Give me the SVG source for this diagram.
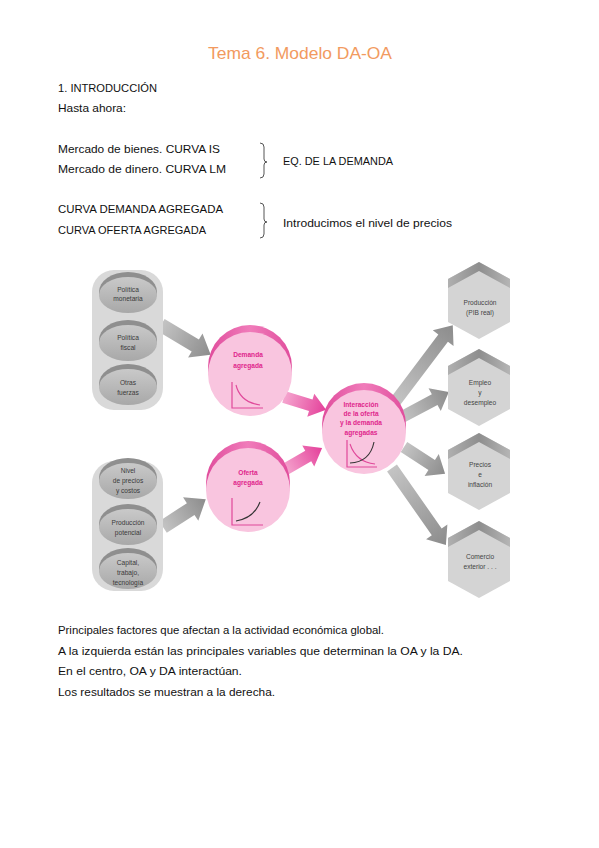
<svg xmlns="http://www.w3.org/2000/svg" width="599" height="848" viewBox="0 0 599 848">
<style>
.t{font-family:"Liberation Sans",Arial,sans-serif;font-size:11px;fill:#111}
.title{font-family:"Liberation Sans",Arial,sans-serif;font-size:17px;fill:#f29a60}
.br{fill:none;stroke:#555;stroke-width:1}
.panel{fill:#d9d9d9}
.dt{font-family:"Liberation Sans",Arial,sans-serif;font-size:6.6px;fill:#3a3a3a;text-anchor:middle}
.pt{font-family:"Liberation Sans",Arial,sans-serif;font-size:6.6px;font-weight:bold;fill:#e0268c;text-anchor:middle}
.ht{font-family:"Liberation Sans",Arial,sans-serif;font-size:6.6px;fill:#444;text-anchor:middle}
.ax{fill:none;stroke:#e0489a;stroke-width:1.2}
.cp{fill:none;stroke:#e0489a;stroke-width:1.1}
.ck{fill:none;stroke:#333;stroke-width:1.1}
.ga{fill:url(#gArrow)}
.pa{fill:url(#pArrow)}
</style>
<defs>
<linearGradient id="gArrow" x1="0" y1="0" x2="1" y2="0">
<stop offset="0" stop-color="#c4c4c4"/><stop offset="1" stop-color="#8c8c8c"/>
</linearGradient>
<linearGradient id="pArrow" x1="0" y1="0" x2="1" y2="0">
<stop offset="0" stop-color="#f5a6cf"/><stop offset="1" stop-color="#e4409a"/>
</linearGradient>
<linearGradient id="disc" x1="0" y1="0" x2="0" y2="1">
<stop offset="0" stop-color="#c9c9c9"/><stop offset="1" stop-color="#a8a8a8"/>
</linearGradient>
<linearGradient id="rim" x1="0" y1="0" x2="1" y2="0">
<stop offset="0" stop-color="#e04c9c"/><stop offset="0.5" stop-color="#f07cba"/><stop offset="1" stop-color="#e04c9c"/>
</linearGradient>
<linearGradient id="bev" x1="0" y1="0" x2="1" y2="0">
<stop offset="0" stop-color="#b0b0b0"/><stop offset="0.5" stop-color="#8e8e8e"/><stop offset="1" stop-color="#b5b5b5"/>
</linearGradient>
<g id="dsk">
<ellipse cx="0" cy="0" rx="29" ry="20" fill="#8f8f8f"/>
<ellipse cx="0" cy="3" rx="29" ry="18" fill="url(#disc)"/>
</g>
<g id="cyl">
<circle cx="0" cy="-5" r="42" fill="url(#rim)"/>
<circle cx="0" cy="2" r="42" fill="#f9c5df"/>
</g>
<g id="hex">
<path d="M0,-39 L31,-22 L31,21 L0,38 L-31,21 L-31,-22 Z" fill="#d4d4d4"/>
<path d="M0,-39 L31,-22 L31,-13 L0,-30 L-31,-13 L-31,-22 Z" fill="url(#bev)"/>
</g>
</defs>

<text class="title" x="300" y="59" text-anchor="middle" textLength="184" lengthAdjust="spacingAndGlyphs">Tema 6. Modelo DA-OA</text>

<g id="intro">
<text class="t" x="58" y="92" textLength="99" lengthAdjust="spacingAndGlyphs">1. INTRODUCCIÓN</text>
<text class="t" x="58" y="112" textLength="68" lengthAdjust="spacingAndGlyphs">Hasta ahora:</text>
<text class="t" x="58" y="153" textLength="162" lengthAdjust="spacingAndGlyphs">Mercado de bienes. CURVA IS</text>
<text class="t" x="58" y="173" textLength="168" lengthAdjust="spacingAndGlyphs">Mercado de dinero. CURVA LM</text>
<path class="br" d="M260,143 Q264,143 264,147 L264,159 Q264,162 267,162 Q264,162 264,165 L264,174 Q264,178 260,178"/>
<text class="t" x="283" y="165" textLength="110" lengthAdjust="spacingAndGlyphs">EQ. DE LA DEMANDA</text>
<text class="t" x="58" y="213" textLength="165" lengthAdjust="spacingAndGlyphs">CURVA DEMANDA AGREGADA</text>
<text class="t" x="58" y="234" textLength="148" lengthAdjust="spacingAndGlyphs">CURVA OFERTA AGREGADA</text>
<path class="br" d="M260,203 Q264,203 264,207 L264,219 Q264,222 267,222 Q264,222 264,225 L264,234 Q264,238 260,238"/>
<text class="t" x="283" y="227" textLength="169" lengthAdjust="spacingAndGlyphs">Introducimos el nivel de precios</text>
</g>

<g id="connectors">
<path class="ga" transform="translate(161,325) rotate(31)" d="M0,-7 L40,-7 L40,-14 L58,0 L40,14 L40,7 L0,7 Z"/>
<path class="ga" transform="translate(163,527) rotate(-33)" d="M0,-7 L33,-7 L33,-14 L51,0 L33,14 L33,7 L0,7 Z"/>
<path class="pa" transform="translate(284,397) rotate(17)" d="M0,-6 L28,-6 L28,-12 L44,0 L28,12 L28,6 L0,6 Z"/>
<path class="pa" transform="translate(284,470) rotate(-30)" d="M0,-6 L28,-6 L28,-12 L44,0 L28,12 L28,6 L0,6 Z"/>
<path class="ga" transform="translate(395,402) rotate(-53)" d="M0,-6 L80,-6 L80,-13 L96,0 L80,13 L80,6 L0,6 Z"/>
<path class="ga" transform="translate(402,417) rotate(-28)" d="M0,-6 L37,-6 L37,-13 L53,0 L37,13 L37,6 L0,6 Z"/>
<path class="ga" transform="translate(404,447) rotate(33)" d="M0,-6 L33,-6 L33,-13 L49,0 L33,13 L33,6 L0,6 Z"/>
<path class="ga" transform="translate(392,468) rotate(55)" d="M0,-6 L78,-6 L78,-13 L94,0 L78,13 L78,6 L0,6 Z"/>
</g>

<g id="panel-demanda">
<rect class="panel" x="92" y="270" width="71" height="140" rx="22"/>
</g>
<g id="politica-monetaria">
<use href="#dsk" x="128" y="292"/>
<text class="dt" x="128" y="292">Política</text>
<text class="dt" x="128" y="301">monetaria</text>
</g>
<g id="politica-fiscal">
<use href="#dsk" x="128" y="340"/>
<text class="dt" x="128" y="340">Política</text>
<text class="dt" x="128" y="350">fiscal</text>
</g>
<g id="otras-fuerzas">
<use href="#dsk" x="128" y="384"/>
<text class="dt" x="128" y="385">Otras</text>
<text class="dt" x="128" y="395">fuerzas</text>
</g>

<g id="panel-oferta">
<rect class="panel" x="92" y="461" width="71" height="130" rx="22"/>
</g>
<g id="nivel-precios">
<use href="#dsk" x="128" y="478"/>
<text class="dt" x="128" y="473">Nivel</text>
<text class="dt" x="128" y="483">de precios</text>
<text class="dt" x="128" y="493">y costos</text>
</g>
<g id="produccion-potencial">
<use href="#dsk" x="128" y="524"/>
<text class="dt" x="128" y="525">Producción</text>
<text class="dt" x="128" y="535">potencial</text>
</g>
<g id="capital">
<use href="#dsk" x="128" y="568"/>
<text class="dt" x="128" y="565">Capital,</text>
<text class="dt" x="128" y="575">trabajo,</text>
<text class="dt" x="128" y="585">tecnología</text>
</g>

<g id="demanda-agregada">
<use href="#cyl" x="250" y="372"/>
<text class="pt" x="248" y="357">Demanda</text>
<text class="pt" x="248" y="368">agregada</text>
<path class="ax" d="M232,382 L232,408 L263,408"/>
<path class="cp" d="M236,385 Q240,402 260,405"/>
</g>

<g id="oferta-agregada">
<use href="#cyl" x="248" y="488"/>
<text class="pt" x="248" y="475">Oferta</text>
<text class="pt" x="248" y="485">agregada</text>
<path class="ax" d="M232,498 L232,525 L263,525"/>
<path class="ck" d="M236,521 Q254,518 260,502"/>
</g>

<g id="interaccion">
<use href="#cyl" x="364" y="430"/>
<text class="pt" x="361" y="407">Interacción</text>
<text class="pt" x="361" y="416">de la oferta</text>
<text class="pt" x="361" y="425">y la demanda</text>
<text class="pt" x="361" y="435">agregadas</text>
<path class="ax" d="M347,440 L347,467 L377,467"/>
<path class="cp" d="M350,444 Q356,462 375,464"/>
<path class="ck" d="M350,463 Q370,462 374,442"/>
</g>

<g id="produccion">
<use href="#hex" x="479" y="301"/>
<text class="ht" x="480" y="305">Producción</text>
<text class="ht" x="480" y="315">(PIB real)</text>
</g>
<g id="empleo">
<use href="#hex" x="479" y="388"/>
<text class="ht" x="480" y="385">Empleo</text>
<text class="ht" x="480" y="395">y</text>
<text class="ht" x="480" y="405">desempleo</text>
</g>
<g id="precios">
<use href="#hex" x="479" y="472"/>
<text class="ht" x="480" y="467">Precios</text>
<text class="ht" x="480" y="477">e</text>
<text class="ht" x="480" y="487">inflación</text>
</g>
<g id="comercio">
<use href="#hex" x="479" y="560"/>
<text class="ht" x="480" y="559">Comercio</text>
<text class="ht" x="480" y="569">exterior . . .</text>
</g>

<g id="conclusion">
<text class="t" x="58" y="634" textLength="326" lengthAdjust="spacingAndGlyphs">Principales factores que afectan a la actividad económica global.</text>
<text class="t" x="58" y="655" textLength="405" lengthAdjust="spacingAndGlyphs">A la izquierda están las principales variables que determinan la OA y la DA.</text>
<text class="t" x="58" y="675" textLength="184" lengthAdjust="spacingAndGlyphs">En el centro, OA y DA interactúan.</text>
<text class="t" x="58" y="696" textLength="217" lengthAdjust="spacingAndGlyphs">Los resultados se muestran a la derecha.</text>
</g>
</svg>
